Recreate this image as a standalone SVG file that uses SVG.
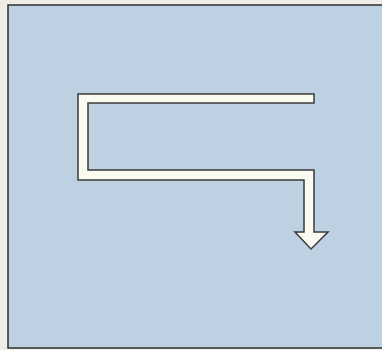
<svg xmlns="http://www.w3.org/2000/svg" width="382" height="350" viewBox="0 0 382 350">
  <style>
    .panel { fill: #bdd1e3; stroke: #2f2f2f; stroke-width: 1.5; }
    .arrow { fill: #fbfaf0; stroke: #3a3a3a; stroke-width: 1.5; stroke-linejoin: miter; }
  </style>
  <rect x="0" y="0" width="382" height="350" fill="#eeeee7"/>
  <rect class="panel" x="8" y="5" width="380" height="343"/>
  <g id="arrow">
    <path class="arrow" d="M 314,94 L 78,94 L 78,180 L 304,180 L 304,232 L 295,232 L 311,249 L 328,232 L 314,232 L 314,170 L 88,170 L 88,103 L 314,103 Z"/>
  </g>
</svg>
